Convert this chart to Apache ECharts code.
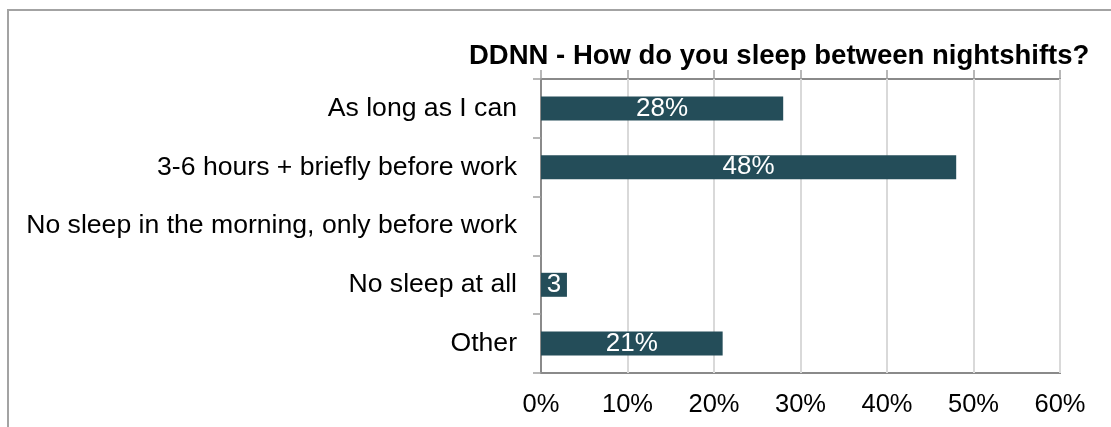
<!DOCTYPE html>
<html>
<head>
<meta charset="utf-8">
<style>
  html, body { margin: 0; padding: 0; background: #fff; }
  #chart { width: 1111px; height: 427px; }
</style>
<script src="https://cdn.jsdelivr.net/npm/echarts@6/dist/echarts.min.js"></script>
</head>
<body>
<div id="chart"></div>
<script>
// Survey answers, top to bottom
const categories = [
  'As long as I can',
  '3-6 hours + briefly before work',
  'No sleep in the morning, only before work',
  'No sleep at all',
  'Other'
];
// Share of respondents, percent
const shares = [28, 48, 0, 3, 21];
// Percent axis ticks
const axisMin = 0;
const axisMax = 60;
const axisStep = 10;

const FONT = '"Liberation Sans", Arial, sans-serif';
const BAR = '#244d59';

const chart = echarts.init(document.getElementById('chart'), null, { renderer: 'canvas' });

function buildOption(labelWidths) {
  return {
    animation: false,
    backgroundColor: '#ffffff',
    title: {
      text: 'DDNN - How do you sleep between nightshifts?',
      left: 464,
      top: 37,
      textStyle: { fontFamily: FONT, fontSize: 27.5, fontWeight: 'bold', color: '#000' }
    },
    graphic: [{
      type: 'rect',
      silent: true,
      shape: { x: 8, y: 10, width: 1300, height: 600 },
      style: { fill: 'none', stroke: '#a3a3a3', lineWidth: 2 }
    }],
    grid: {
      left: 541, top: 79, right: 51, bottom: 54,
      show: true,
      borderColor: '#8a8a8a',
      borderWidth: 2,
      containLabel: false
    },
    xAxis: [{
      type: 'value',
      position: 'bottom',
      min: axisMin, max: axisMax, interval: axisStep,
      axisLine: { show: false },
      axisTick: { show: false },
      splitLine: { show: true, lineStyle: { color: '#d9d9d9', width: 2 } },
      axisLabel: {
        margin: 19,
        fontFamily: FONT, fontSize: 25.5, color: '#000',
        formatter: v => v + '%'
      }
    }, {
      type: 'value',
      position: 'top',
      min: axisMin, max: axisMax, interval: axisStep,
      axisLine: { show: false },
      axisTick: { show: true, inside: false, length: 9, lineStyle: { color: '#a0a0a0', width: 1.5 } },
      splitLine: { show: false },
      axisLabel: { show: false }
    }],
    yAxis: {
      type: 'category',
      inverse: true,
      data: categories,
      axisLine: { show: true, lineStyle: { color: '#8a8a8a', width: 2 } },
      axisTick: { show: true, length: 8, lineStyle: { color: '#a0a0a0', width: 1.5 } },
      axisLabel: {
        margin: 24,
        fontFamily: FONT, fontSize: 26.6, color: '#000'
      }
    },
    series: [{
      type: 'bar',
      xAxisIndex: 0,
      barWidth: 24,
      itemStyle: { color: BAR },
      label: {
        show: true,
        position: 'inside',
        fontFamily: FONT, fontSize: 26, color: '#ffffff',
        formatter: p => (p.value > 0 ? p.value + '%' : '')
      },
      data: shares.map((v, i) => {
        const item = { value: v };
        if (labelWidths && labelWidths[i] != null) {
          item.label = { width: labelWidths[i], overflow: 'truncate', ellipsis: '' };
        }
        return item;
      })
    }]
  };
}

chart.setOption(buildOption(null));

// Value labels are clipped to the length of their own bar
const zeroPx = chart.convertToPixel({ xAxisIndex: 0 }, 0);
const widths = shares.map(v => Math.max(0, chart.convertToPixel({ xAxisIndex: 0 }, v) - zeroPx));
chart.setOption(buildOption(widths));
</script>
</body>
</html>
